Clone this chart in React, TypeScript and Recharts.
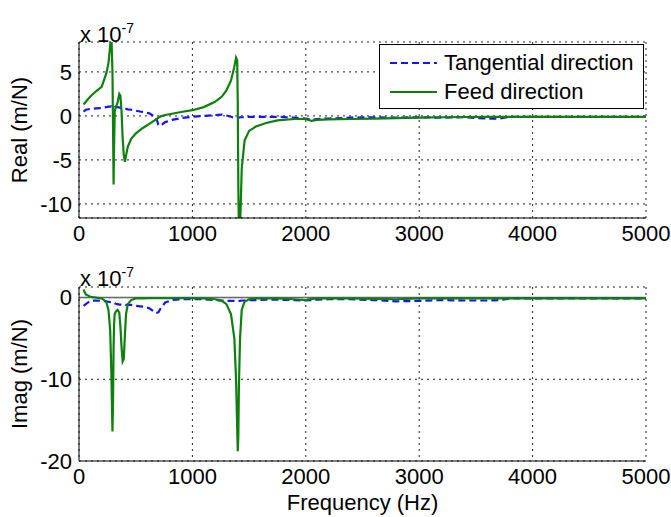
import { LineChart, Line, XAxis, YAxis, CartesianGrid, ReferenceLine, Label } from "recharts";

// frequency samples (Hz)
const freqs = [
  40, 60, 100, 150, 200, 240, 260, 275, 285, 295, 300, 305, 310, 315, 325, 340, 355, 365, 375, 385,
  395, 405, 415, 430, 460, 500, 560, 620, 680, 700, 720, 760, 820, 900, 1000, 1100, 1200, 1260, 1300, 1340,
  1370, 1385, 1395, 1400, 1405, 1410, 1420, 1435, 1460, 1500, 1560, 1650, 1750, 1900, 2000, 2050, 2100, 2200, 2400, 2600,
  2800, 3000, 3200, 3400, 3600, 3700, 3800, 4000, 4500, 5000,
];

// real part, x 1e-7 m/N
const realTangential = [
  0.5, 0.7, 0.8, 0.85, 0.9, 1.0, 1.05, 1.05, 1.1, 1.05, 1.0, 0.9, 0.95, 1.0, 1.0, 1.0, 0.95, 0.9, 0.9, 0.85,
  0.85, 0.8, 0.8, 0.75, 0.7, 0.6, 0.45, 0.3, -0.2, -1.0, -1.1, -0.7, -0.45, -0.25, -0.1, 0.0, 0.1, 0.15, 0.05, -0.1,
  -0.2, -0.25, -0.25, -0.2, -0.2, -0.2, -0.15, -0.15, -0.15, -0.1, -0.1, -0.1, -0.1, -0.2, -0.3, -0.45, -0.35, -0.3, -0.2, -0.15,
  -0.2, -0.15, -0.2, -0.15, -0.3, -0.3, -0.1, -0.1, -0.1, -0.1,
];
const realFeed = [
  1.3, 1.6, 2.2, 2.8, 3.3, 4.8, 6.0, 8.0, 9.5, 5.0, -1.0, -7.8, -3.0, 0.5, 1.0, 1.5, 2.5, 2.3, 0.5, -2.5,
  -4.5, -5.2, -4.5, -3.5, -2.6, -2.0, -1.4, -0.9, -0.4, -0.2, -0.05, 0.1, 0.25, 0.45, 0.65, 1.0, 1.6, 2.2, 2.9, 4.0,
  5.6, 6.6, 6.3, 1.5, -8.0, -13.0, -13.0, -6.0, -2.8, -1.7, -1.2, -0.8, -0.5, -0.35, -0.35, -0.55, -0.45, -0.4, -0.35, -0.3,
  -0.25, -0.2, -0.15, -0.12, -0.1, -0.1, -0.1, -0.1, -0.1, -0.1,
];

// imaginary part, x 1e-7 m/N
const imagTangential = [
  -1.0, -0.8, -0.4, -0.35, -0.4, -0.45, -0.5, -0.55, -0.55, -0.6, -0.6, -0.6, -0.65, -0.7, -0.75, -0.8, -0.85, -0.85, -0.9, -0.9,
  -0.9, -0.9, -0.9, -0.9, -0.9, -1.0, -1.1, -1.3, -1.9, -1.8, -1.3, -0.6, -0.3, -0.2, -0.2, -0.2, -0.3, -0.35, -0.4, -0.4,
  -0.4, -0.4, -0.4, -0.4, -0.4, -0.4, -0.4, -0.35, -0.35, -0.3, -0.3, -0.25, -0.25, -0.3, -0.35, -0.3, -0.25, -0.2, -0.2, -0.3,
  -0.45, -0.4, -0.3, -0.35, -0.35, -0.3, -0.1, -0.1, -0.1, -0.1,
];
const imagFeed = [
  1.0, 0.4, 0.1, 0.0, -0.1, -0.5, -1.5, -4.0, -9.0, -16.4, -13.0, -6.0, -3.0, -2.0, -1.7, -1.5, -1.8, -3.5, -6.0, -7.8,
  -7.5, -4.5, -2.0, -0.8, -0.3, -0.1, -0.1, -0.05, -0.05, -0.05, -0.05, -0.05, -0.05, -0.05, -0.05, -0.1, -0.2, -0.4, -0.8, -2.0,
  -5.0, -10.0, -16.0, -18.8, -17.0, -11.0, -5.0, -1.5, -0.5, -0.2, -0.1, -0.1, -0.1, -0.2, -0.3, -0.15, -0.1, -0.1, -0.1, -0.15,
  -0.2, -0.1, -0.1, -0.1, -0.1, -0.1, -0.1, -0.1, -0.1, -0.1,
];

const xTicks = [0, 1000, 2000, 3000, 4000, 5000];
const realTicks = [-10, -5, 0, 5];
const imagTicks = [-20, -10, 0];

const realData = freqs.map((f, i) => ({ f, tan: realTangential[i], feed: realFeed[i] }));
const imagData = freqs.map((f, i) => ({ f, tan: imagTangential[i], feed: imagFeed[i] }));

const FONT = "Arial, 'Liberation Sans', sans-serif";
const BLUE = "#1414ff";
const GREEN = "#0d800d";
const tickStyle = { fontSize: 22, fill: "#000", fontFamily: FONT };

function YLabel({ viewBox, text }: any) {
  const cx = viewBox.x;
  const cy = viewBox.y + viewBox.height / 2;
  return (
    <text
      x={cx}
      y={cy}
      transform={`rotate(-90 ${cx} ${cy})`}
      textAnchor="middle"
      dominantBaseline="central"
      style={{ fontSize: 22, fontFamily: FONT, fill: "#000" }}
    >
      {text}
    </text>
  );
}

function Multiplier({ top }: { top: number }) {
  return (
    <div
      style={{
        position: "absolute",
        left: 80,
        top,
        fontFamily: FONT,
        fontSize: 22,
        color: "#000",
        lineHeight: "26px",
        whiteSpace: "nowrap",
      }}
    >
      x 10<sup style={{ fontSize: 14, verticalAlign: "9px" }}>-7</sup>
    </div>
  );
}

function Panel({ data, domain, ticks, label, height, margin, zeroLine, xLabel }: any) {
  return (
    <LineChart width={671} height={height} data={data} margin={margin}>
      <CartesianGrid stroke="#222" strokeDasharray="2 4" />
      <XAxis
        dataKey="f"
        type="number"
        domain={[0, 5000]}
        ticks={xTicks}
        tick={tickStyle}
        tickLine={false}
        tickSize={5}
        tickMargin={2}
        axisLine={{ stroke: "#000" }}
        height={30}
        interval={0}
      >
        {xLabel ? (
          <Label
            content={({ viewBox }: any) => (
              <text
                x={viewBox.x + viewBox.width / 2}
                y={viewBox.y + 41}
                textAnchor="middle"
                dominantBaseline="central"
                style={{ fontSize: 22, fontFamily: FONT, fill: "#000" }}
              >
                Frequency (Hz)
              </text>
            )}
          />
        ) : null}
      </XAxis>
      <XAxis xAxisId="top" orientation="top" dataKey="f" type="number" domain={[0, 5000]} tick={false} tickLine={false} height={0} axisLine={{ stroke: "#000" }} />
      <YAxis
        type="number"
        domain={domain}
        ticks={ticks}
        allowDataOverflow
        tick={tickStyle}
        tickLine={false}
        tickSize={5}
        tickMargin={2}
        axisLine={{ stroke: "#000" }}
        width={60}
        interval={0}
      >
        <Label content={(p: any) => <YLabel viewBox={p.viewBox} text={label} />} />
      </YAxis>
      <YAxis yAxisId="right" orientation="right" domain={domain} tick={false} tickLine={false} width={0} axisLine={{ stroke: "#000" }} />
      {zeroLine ? <ReferenceLine y={0} stroke="#666" strokeWidth={1.5} /> : null}
      <Line dataKey="tan" type="linear" stroke={BLUE} strokeWidth={2.2} strokeDasharray="7 4" dot={false} isAnimationActive={false} />
      <Line dataKey="feed" type="linear" stroke={GREEN} strokeWidth={2.2} dot={false} isAnimationActive={false} />
    </LineChart>
  );
}

function LegendBox() {
  const rows = [
    { name: "Tangential direction", color: BLUE, dash: "7 4", y: 18 },
    { name: "Feed direction", color: GREEN, dash: undefined, y: 47 },
  ];
  return (
    <div
      style={{
        position: "absolute",
        left: 379,
        top: 44,
        width: 263,
        height: 63,
        border: "1px solid #000",
        background: "#fff",
        fontFamily: FONT,
        fontSize: 22,
      }}
    >
      {rows.map((r) => (
        <div key={r.name} style={{ position: "absolute", left: 10, top: r.y - 13, height: 26, display: "flex", alignItems: "center", whiteSpace: "nowrap" }}>
          <svg width={48} height={6} style={{ marginRight: 6 }}>
            <line x1={0} y1={3} x2={47} y2={3} stroke={r.color} strokeWidth={2.2} strokeDasharray={r.dash} />
          </svg>
          <span>{r.name}</span>
        </div>
      ))}
    </div>
  );
}

export default function App() {
  return (
    <div style={{ position: "absolute", left: 0, top: 0, width: 671, height: 517, background: "#fff" }}>
      <div style={{ position: "absolute", left: 0, top: 0 }}>
        <Panel
          data={realData}
          domain={[-11.6, 8.4]}
          ticks={realTicks}
          label="Real (m/N)"
          height={250}
          margin={{ top: 42, right: 25, left: 19, bottom: 2 }}
        />
      </div>
      <div style={{ position: "absolute", left: 0, top: 250 }}>
        <Panel
          data={imagData}
          domain={[-20, 1.3]}
          ticks={imagTicks}
          label="Imag (m/N)"
          height={267}
          margin={{ top: 37, right: 25, left: 19, bottom: 26 }}
          zeroLine
          xLabel
        />
      </div>
      <Multiplier top={15} />
      <Multiplier top={259} />
      <LegendBox />
    </div>
  );
}
